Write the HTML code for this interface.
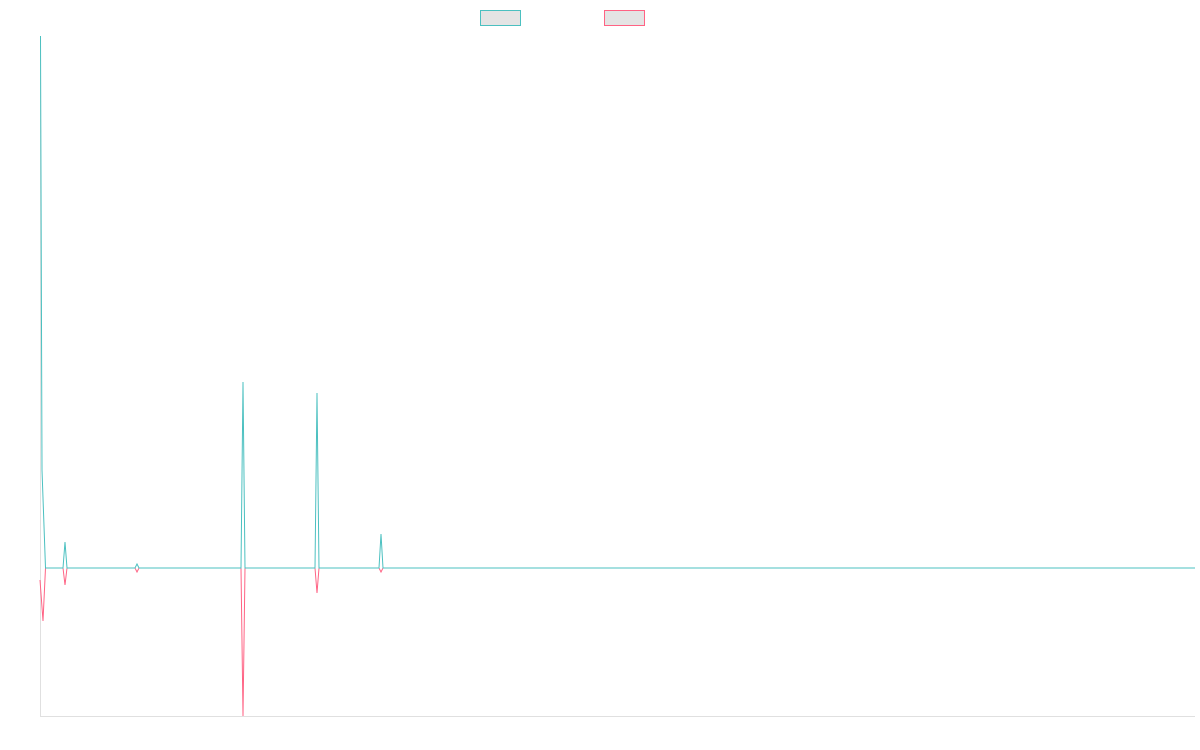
<!DOCTYPE html>
<html><head><style>body{margin:0;background:#fff}svg{display:block}</style></head>
<body>
<svg width="1200" height="750" viewBox="0 0 1200 750">
<rect x="480.5" y="10.5" width="40" height="15" fill="#e4e4e4" stroke="#4bc0c0" stroke-width="1"/>
<rect x="604.5" y="10.5" width="40" height="15" fill="#e4e4e4" stroke="#ff6384" stroke-width="1"/>
<line x1="40.5" y1="36" x2="40.5" y2="716" stroke="#e0e0e0"/>
<line x1="40" y1="716.5" x2="1195" y2="716.5" stroke="#e0e0e0"/>
<polyline fill="none" stroke="#ff6384" stroke-width="1" points="40,580 43,621 45.5,568 63,568 65,585 67,568 135,568 137,572 139,568 241,568 243,716 245,568 315,568 317,593 319,568 379,568 381,572 383,568 1195,568"/>
<polyline fill="none" stroke="#4bc0c0" stroke-width="1" points="40.5,36 42,470 45.5,568 63,568 65,542 67,568 135,568 137,564 139,568 241,568 243,382 245,568 315,568 317,393 319,568 379,568 381,534 383,568 1195,568"/>
</svg>
</body></html>
